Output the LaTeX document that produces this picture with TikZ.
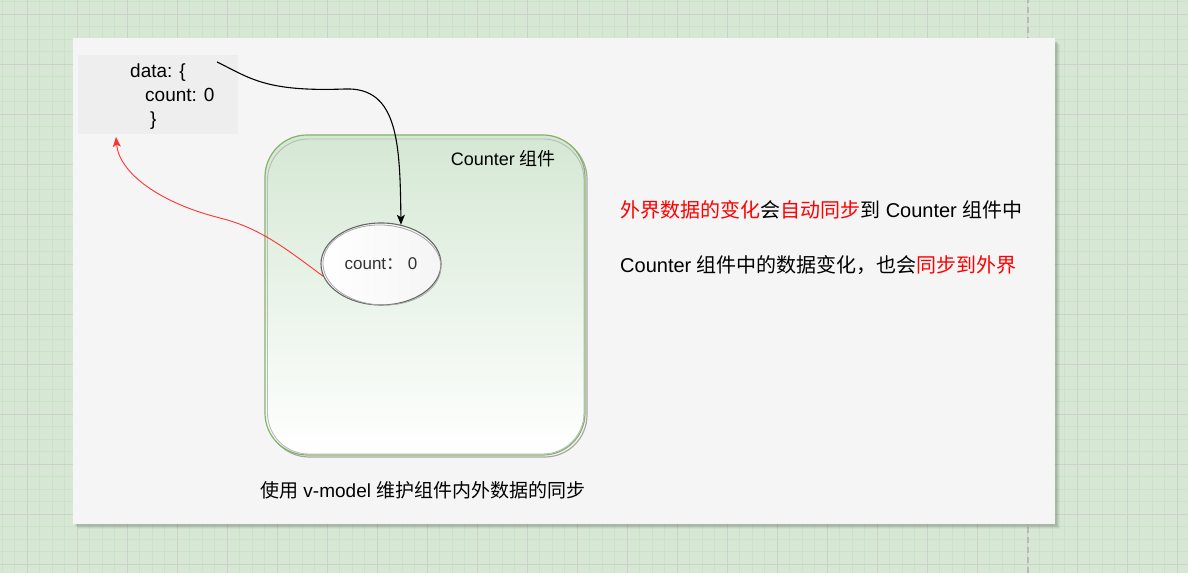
\documentclass[tikz,border=0pt]{standalone}
\usepackage{fontspec}
\setmainfont{Liberation Sans}
\newfontfamily\cjkfont{Noto Sans CJK SC}
\newcommand{\zh}[1]{{\cjkfont #1}}
\usetikzlibrary{shapes.geometric,arrows.meta}
\definecolor{bggreen}{HTML}{D6E8D4}
\definecolor{minorline}{HTML}{CDE0CB}
\definecolor{majorline}{HTML}{CCD2CB}
\definecolor{panel}{HTML}{F5F5F5}
\definecolor{codebox}{HTML}{EEEEEE}
\definecolor{compgreen}{HTML}{82B366}
\definecolor{compfill}{HTML}{D5E8D4}
\definecolor{sketchgray}{HTML}{A8A8A8}
\definecolor{linkred}{HTML}{FF3333}
\definecolor{txtred}{HTML}{FF0000}
\begin{document}
\begin{tikzpicture}[x=1bp,y=1bp,
  minor/.style={minorline, line width=0.8bp},
  major/.style={majorline, line width=1.2bp},
  maintext/.style={font=\fontsize{19bp}{24bp}\selectfont, text=black, inner sep=0pt},
  sidetext/.style={font=\fontsize{20bp}{24bp}\selectfont, text=black, inner sep=0pt},
  link/.style={line width=1.1bp, -{Stealth[length=10bp,width=8bp,inset=2.5bp]}},
]
\useasboundingbox (0,0) rectangle (1188,573);
% background grid
\fill[bggreen] (0,0) rectangle (1188,573);
\foreach \i in {0,...,95} \draw[minor] (2.3+12.5*\i,0) -- ++(0,573);
\foreach \i in {0,...,46} \draw[minor] (0,571.2-12.5*\i) -- ++(1188,0);
\foreach \i in {0,...,23} \draw[major] (27.3+50*\i,0) -- ++(0,573);
\foreach \i in {0,...,11} \draw[major] (0,558.7-50*\i) -- ++(1188,0);
% page break line
\draw[gray!55, line width=1.6bp, dash pattern=on 6bp off 4bp] (1028,0) -- (1028,573);
% panel shadow
\foreach \s/\o in {5/0.04,4/0.05,3/0.06,2/0.07}
  \fill[black, opacity=\o] (73+\s,535-\s-1) rectangle (1055+\s,49-\s);
% panel
\node[fill=panel, minimum width=982bp, minimum height=486bp, inner sep=0pt] (panel) at (564,292) {};
% data box
\node[fill=codebox, minimum width=160bp, minimum height=79bp, inner sep=0pt] (databox) at (158,478.5) {};
\node[maintext, anchor=base west] (d1) at (130,495) {data: \{};
\node[maintext, anchor=base west] (d2) at (145,471) {count: 0};
\node[maintext, anchor=base west] (d3) at (150,447) {\}};
% component box (sketchy double outline)
\draw[sketchgray, line width=1.2bp, rounded corners=42bp] (267,436) rectangle (587,116);
\node[draw=compgreen, line width=1.2bp, rounded corners=42bp, top color=compfill, bottom color=white,
  minimum width=320bp, minimum height=320bp, inner sep=0pt] (comp) at (425,278) {};
\draw[sketchgray!80, line width=0.9bp, rounded corners=41bp] (267.5,434) rectangle (584,119);
\node[font=\fontsize{18bp}{20bp}\selectfont, anchor=east, inner sep=0pt] (complabel) at (556,414) {Counter \zh{组件}};
% count ellipse
\node[ellipse, draw=gray!80!black, line width=1.1bp, left color=white, right color=gray!8,
  minimum width=120bp, minimum height=82bp, inner sep=0pt, text=black!80,
  font=\fontsize{17bp}{18bp}\selectfont] (cnt) at (381,309) {count\zh{：} 0};
\draw[gray!70, line width=0.8bp, rotate around={-3:(381,309)}] (382,308) ellipse [x radius=59bp, y radius=40bp];
% connectors
\coordinate (bstart) at (217,511);
\coordinate (rtip) at (116,436);
\draw[link, black] (bstart) .. controls (250,495) and (265,481) .. (345,484)
  .. controls (398,486) and (400,430) .. (cnt.63);
\draw[link, linkred, line width=0.9bp] (cnt.192) .. controls (285,325) and (260,345) .. (220,355)
  .. controls (160,370) and (119,400) .. (rtip);
% right side text
\node[sidetext, anchor=west] (line1) at (620,363)
  {{\color{txtred}\zh{外界数据的变化}}\zh{会}{\color{txtred}\zh{自动同步}}\zh{到} Counter \zh{组件中}};
\node[sidetext, anchor=west] (line2) at (620,308)
  {Counter \zh{组件中的数据变化，也会}{\color{txtred}\zh{同步到外界}}};
% caption
\node[maintext, anchor=west] (caption) at (260,83) {\zh{使用} v-model \zh{维护组件内外数据的同步}};
\end{tikzpicture}
\end{document}
